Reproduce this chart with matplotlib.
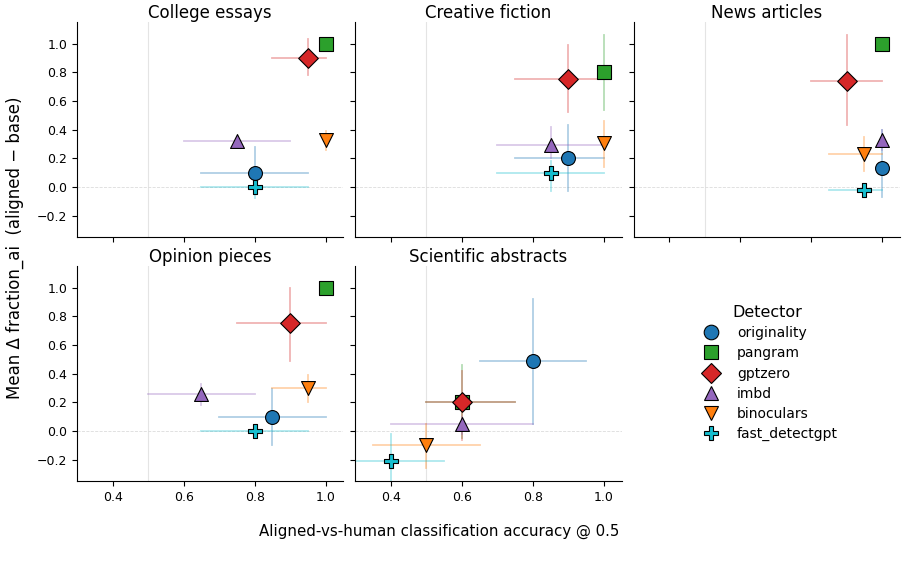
import matplotlib
matplotlib.use("Agg")
import matplotlib.pyplot as plt
from matplotlib.lines import Line2D
import numpy as np

domains = ["College essays", "Creative fiction", "News articles",
           "Opinion pieces", "Scientific abstracts"]
detectors = ["originality", "pangram", "gptzero", "imbd", "binoculars", "fast_detectgpt"]
colors = ["#1f77b4", "#2ca02c", "#d62728", "#9467bd", "#ff7f0e", "#17becf"]
markers = ["o", "s", "D", "^", "v", "P"]

# per domain, per detector: accuracy (x) and its CI, mean delta (y) and its CI
acc = {
    "College essays":       [0.80, 1.00, 0.95, 0.75, 1.00, 0.80],
    "Creative fiction":     [0.90, 1.00, 0.90, 0.85, 1.00, 0.85],
    "News articles":        [1.00, 1.00, 0.90, 1.00, 0.95, 0.95],
    "Opinion pieces":       [0.85, 1.00, 0.90, 0.65, 0.95, 0.80],
    "Scientific abstracts": [0.80, 0.60, 0.60, 0.60, 0.50, 0.40],
}
acc_lo = {
    "College essays":       [0.65, 1.00, 0.85, 0.60, 1.00, 0.65],
    "Creative fiction":     [0.75, 1.00, 0.75, 0.70, 1.00, 0.70],
    "News articles":        [1.00, 1.00, 0.80, 1.00, 0.85, 0.85],
    "Opinion pieces":       [0.70, 1.00, 0.75, 0.50, 0.85, 0.65],
    "Scientific abstracts": [0.65, 0.50, 0.50, 0.40, 0.35, 0.25],
}
acc_hi = {
    "College essays":       [0.95, 1.00, 1.00, 0.90, 1.00, 0.95],
    "Creative fiction":     [1.00, 1.00, 1.00, 1.00, 1.00, 1.00],
    "News articles":        [1.00, 1.00, 1.00, 1.00, 1.00, 1.00],
    "Opinion pieces":       [1.00, 1.00, 1.00, 0.80, 1.00, 0.95],
    "Scientific abstracts": [0.95, 0.75, 0.75, 0.80, 0.65, 0.55],
}
delta = {
    "College essays":       [0.10, 1.00, 0.90, 0.32, 0.33, 0.00],
    "Creative fiction":     [0.20, 0.80, 0.75, 0.29, 0.31, 0.10],
    "News articles":        [0.13, 1.00, 0.74, 0.33, 0.23, -0.02],
    "Opinion pieces":       [0.10, 1.00, 0.75, 0.26, 0.30, 0.00],
    "Scientific abstracts": [0.49, 0.20, 0.20, 0.05, -0.10, -0.21],
}
delta_lo = {
    "College essays":       [-0.02, 1.00, 0.78, 0.30, 0.26, -0.08],
    "Creative fiction":     [-0.03, 0.54, 0.52, 0.20, 0.14, -0.03],
    "News articles":        [-0.07, 1.00, 0.43, 0.26, 0.11, -0.04],
    "Opinion pieces":       [-0.10, 1.00, 0.49, 0.18, 0.20, -0.02],
    "Scientific abstracts": [0.05, -0.05, -0.06, -0.02, -0.26, -0.40],
}
delta_hi = {
    "College essays":       [0.28, 1.00, 1.03, 0.34, 0.39, 0.05],
    "Creative fiction":     [0.43, 1.06, 0.99, 0.42, 0.46, 0.18],
    "News articles":        [0.40, 1.00, 1.06, 0.40, 0.35, 0.00],
    "Opinion pieces":       [0.29, 1.00, 1.00, 0.33, 0.39, 0.02],
    "Scientific abstracts": [0.92, 0.46, 0.42, 0.10, 0.05, -0.02],
}

fig, axes = plt.subplots(2, 3, figsize=(9.08, 5.68), dpi=100, sharex=True, sharey=True)
fig.subplots_adjust(left=0.085, right=0.991, top=0.961, bottom=0.153,
                    wspace=0.045, hspace=0.135)

for ax, dom in zip(axes.flat, domains):
    ax.axvline(0.5, color="#e4e4e4", lw=0.8, zorder=0)
    ax.axhline(0.0, color="#dcdcdc", lw=0.6, ls="--", zorder=0)
    for i, det in enumerate(detectors):
        x, y = acc[dom][i], delta[dom][i]
        ax.plot([acc_lo[dom][i], acc_hi[dom][i]], [y, y], color=colors[i],
                alpha=0.35, lw=1.3, zorder=1)
        ax.plot([x, x], [delta_lo[dom][i], delta_hi[dom][i]], color=colors[i],
                alpha=0.35, lw=1.3, zorder=1)
        ax.scatter(x, y, s=100, marker=markers[i], color=colors[i],
                   edgecolor="black", linewidth=0.8, zorder=3)
    ax.set_title(dom, fontsize=12, pad=2.5)
    ax.spines[["top", "right"]].set_visible(False)
    ax.tick_params(labelsize=9)

axes[0, 0].set_xlim(0.3, 1.05)
axes[0, 0].set_ylim(-0.35, 1.15)
axes[0, 0].set_xticks([0.4, 0.6, 0.8, 1.0])
axes[0, 0].set_yticks([-0.2, 0.0, 0.2, 0.4, 0.6, 0.8, 1.0])
axes[0, 2].tick_params(labelbottom=False)
axes[1, 2].remove()

handles = [Line2D([], [], ls="none", marker=m, color=c, markeredgecolor="black",
                  markeredgewidth=0.8, markersize=10.5)
           for m, c in zip(markers, colors)]
fig.legend(handles, detectors, title="Detector", loc="center",
           bbox_to_anchor=(0.845, 0.343), frameon=False, fontsize=10,
           title_fontsize=11.5, handletextpad=0.9, labelspacing=0.45)

fig.text(0.484, 0.065, "Aligned-vs-human classification accuracy @ 0.5",
         ha="center", va="center", fontsize=10.8)
fig.text(0.016, 0.563, "Mean \u0394 fraction_ai  (aligned \u2212 base)",
         ha="center", va="center", rotation=90, fontsize=12)

fig.savefig("out.png", dpi=100)
